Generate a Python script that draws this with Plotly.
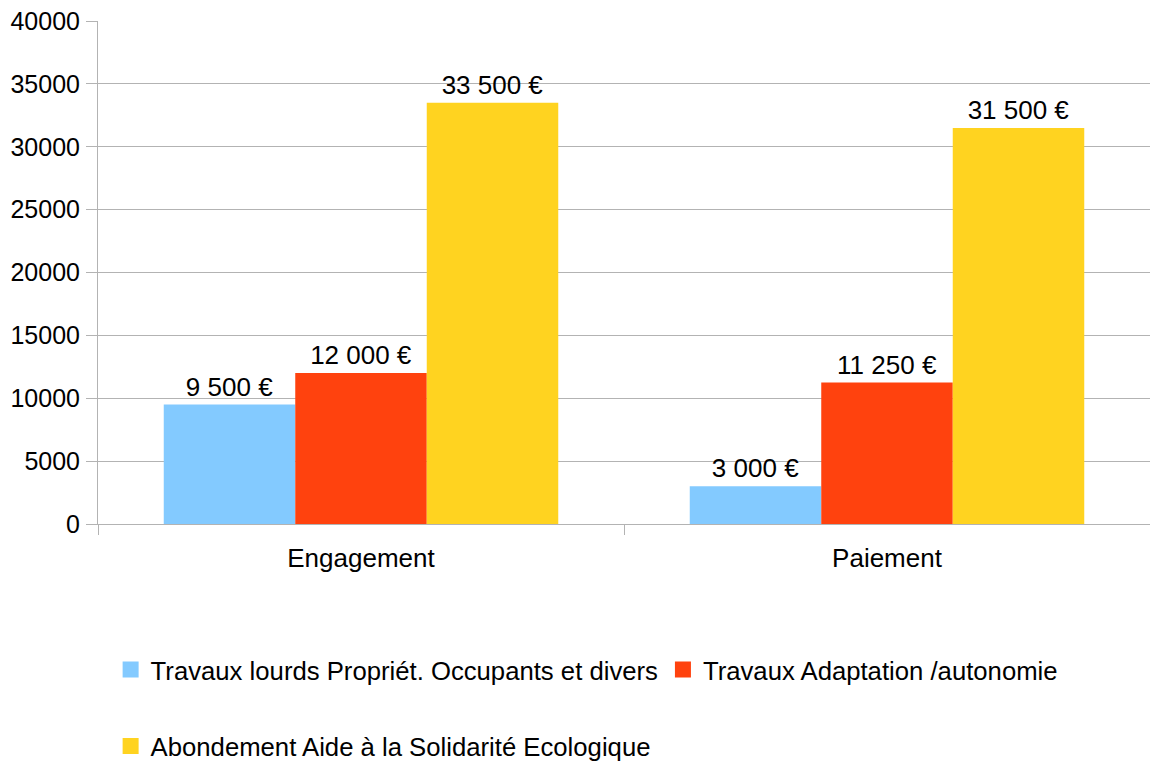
import plotly.graph_objects as go

categories = ["Engagement", "Paiement"]
series_names = [
    "Travaux lourds Propriét. Occupants et divers",
    "Travaux Adaptation /autonomie",
    "Abondement Aide à la Solidarité Ecologique",
]
travaux_lourds = [9500, 3000]
adaptation = [12000, 11250]
abondement = [33500, 31500]
colors = ["#83CAFF", "#FF420E", "#FFD320"]
y_ticks = [0, 5000, 10000, 15000, 20000, 25000, 30000, 35000, 40000]

FONT = "Liberation Sans, Arial, sans-serif"
FS = 26
LFS = 25.7


def euro(v):
    return f"{v:,}".replace(",", " ") + " €"


fig = go.Figure()
for i, (name, vals) in enumerate(zip(series_names, [travaux_lourds, adaptation, abondement])):
    fig.add_trace(go.Bar(
        x=categories, y=vals, name=name,
        marker=dict(color=colors[i], line=dict(width=0)),
        text=[euro(v) for v in vals],
        textposition="outside",
        textfont=dict(family=FONT, size=FS, color="#000000"),
        cliponaxis=False,
        showlegend=False,
    ))
# legend entries with larger square swatches
for i, name in enumerate(series_names):
    fig.add_trace(go.Scatter(
        x=[None], y=[None], name=name, mode="markers",
        marker=dict(symbol="square", size=16, color=colors[i], line=dict(width=0)),
        showlegend=True, hoverinfo="skip",
        legend="legend" if i < 2 else "legend2",
    ))

fig.update_layout(
    width=1150, height=762,
    paper_bgcolor="white", plot_bgcolor="white",
    margin=dict(l=98, r=0, t=21, b=238, autoexpand=False),
    barmode="group", bargap=0.25, bargroupgap=0,
    font=dict(family=FONT, size=FS, color="#000000"),
    showlegend=True,
    legend=dict(orientation="h", x=0.012, y=-0.29, xanchor="left", yanchor="middle",
                font=dict(family=FONT, size=LFS), itemwidth=30, bgcolor="rgba(0,0,0,0)"),
    legend2=dict(orientation="h", x=0.012, y=-0.442, xanchor="left", yanchor="middle",
                 font=dict(family=FONT, size=LFS), itemwidth=30, bgcolor="rgba(0,0,0,0)"),
)
fig.update_yaxes(
    range=[0, 40000], tickvals=y_ticks, ticktext=[str(v) for v in y_ticks],
    showgrid=True, gridcolor="#b3b3b3", gridwidth=1,
    showline=True, linecolor="#b3b3b3", linewidth=1,
    ticks="outside", ticklen=11, tickcolor="#b3b3b3",
    zeroline=False, tickfont=dict(family=FONT, size=25),
    ticklabelstandoff=1, automargin=False, ticklabeloverflow="allow",
)
fig.update_xaxes(
    showline=True, linecolor="#b3b3b3", linewidth=1,
    ticks="outside", ticklen=10, tickcolor="#b3b3b3", tickson="boundaries",
    showgrid=False, tickfont=dict(family=FONT, size=FS),
    ticklabelstandoff=11, automargin=False,
)

fig.write_html(
    "out.html",
    config={"responsive": False, "displayModeBar": False},
    post_script="document.body.style.margin='0px';document.body.style.overflow='hidden';",
)
